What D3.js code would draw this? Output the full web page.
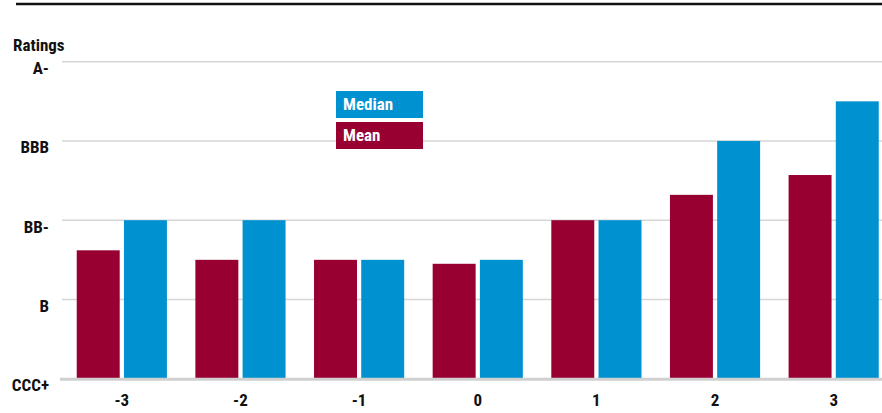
<!DOCTYPE html>
<html>
<head>
<meta charset="utf-8">
<script src="https://cdn.jsdelivr.net/npm/d3@7"></script>
<style>
  body { margin: 0; background: #fff; }
  svg text { font-family: "Liberation Sans Narrow", "Arial Narrow", "Roboto Condensed", sans-serif; font-weight: bold; }
</style>
</head>
<body>
<div id="chart"></div>
<script>
var categories = ["-3", "-2", "-1", "0", "1", "2", "3"];
var meanValues = [1.62, 1.50, 1.50, 1.45, 2.0, 2.32, 2.57];
var medianValues = [2.0, 2.0, 1.50, 1.50, 2.0, 3.0, 3.5];
var ratingLabels = ["CCC+", "B", "BB-", "BBB", "A-"];
var seriesNames = ["Mean", "Median"];

var W = 882, H = 413;
var colors = { Mean: "#970030", Median: "#0091d0" };
var fs = 17;

var svg = d3.select("#chart")
  .append("svg")
  .attr("width", W)
  .attr("height", H);

var x = d3.scaleBand()
  .domain(categories)
  .range([62.5, 893])
  .paddingInner(0.24)
  .paddingOuter(0.12);

var xSub = d3.scaleBand()
  .domain(seriesNames)
  .range([0, x.bandwidth()])
  .paddingInner(0.09);

var y = d3.scaleLinear()
  .domain([0, 4])
  .range([378.7, 61.7]);

// top rule
svg.append("line")
  .attr("x1", 16).attr("x2", W)
  .attr("y1", 4).attr("y2", 4)
  .attr("stroke", "#111").attr("stroke-width", 2.6);

// grid lines
svg.append("g")
  .selectAll("line")
  .data(d3.range(1, ratingLabels.length))
  .enter()
  .append("line")
  .attr("x1", 62).attr("x2", W)
  .attr("y1", d => y(d)).attr("y2", d => y(d))
  .attr("stroke", "#d6d6d6").attr("stroke-width", 1.6);

// y labels (sit just under their grid line)
svg.append("g")
  .selectAll("text")
  .data(ratingLabels)
  .enter()
  .append("text")
  .attr("x", 49)
  .attr("y", (d, i) => y(i) + 12.3)
  .attr("text-anchor", "end")
  .attr("font-size", fs)
  .attr("fill", "#111")
  .text(d => d);

svg.append("text")
  .attr("x", 13).attr("y", 51)
  .attr("font-size", fs)
  .attr("fill", "#111")
  .text("Ratings");

// bars
var rows = categories.map((c, i) => ({ cat: c, Mean: meanValues[i], Median: medianValues[i] }));

var groups = svg.append("g")
  .selectAll("g")
  .data(rows)
  .enter()
  .append("g")
  .attr("transform", d => `translate(${x(d.cat)},0)`);

groups.selectAll("rect")
  .data(d => seriesNames.map(s => ({ key: s, value: d[s] })))
  .enter()
  .append("rect")
  .attr("x", d => xSub(d.key))
  .attr("width", xSub.bandwidth())
  .attr("y", d => y(d.value))
  .attr("height", d => y(0) - y(d.value))
  .attr("fill", d => colors[d.key]);

// baseline
svg.append("line")
  .attr("x1", 60).attr("x2", W)
  .attr("y1", y(0) + 0.5).attr("y2", y(0) + 0.5)
  .attr("stroke", "#d0d0d0").attr("stroke-width", 3);

// x labels
svg.append("g")
  .selectAll("text")
  .data(categories)
  .enter()
  .append("text")
  .attr("x", d => x(d) + x.bandwidth() / 2)
  .attr("y", 406)
  .attr("text-anchor", "middle")
  .attr("font-size", fs)
  .attr("fill", "#111")
  .text(d => d);

// legend
var legendItems = ["Median", "Mean"];
var legend = svg.append("g")
  .selectAll("g")
  .data(legendItems)
  .enter()
  .append("g")
  .attr("transform", (d, i) => `translate(336,${91 + i * 31})`);

legend.append("rect")
  .attr("width", 87).attr("height", 27)
  .attr("fill", d => colors[d]);

legend.append("text")
  .attr("x", 7).attr("y", 18.5)
  .attr("font-size", fs)
  .attr("fill", "#fff")
  .text(d => d);
</script>
</body>
</html>
